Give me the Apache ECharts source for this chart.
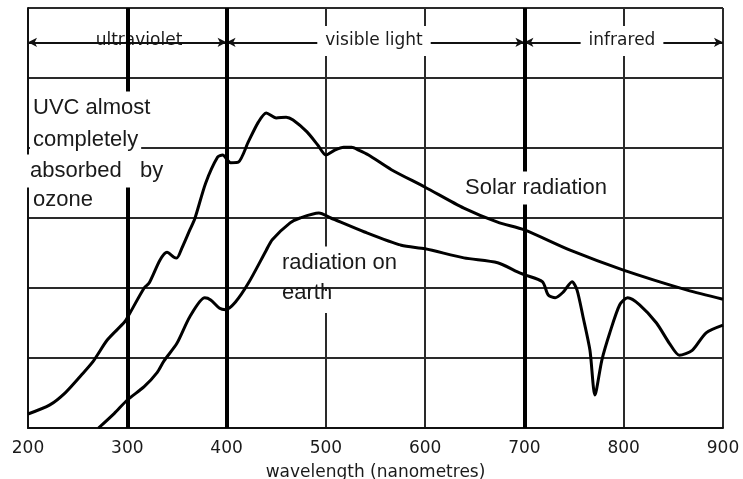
<!DOCTYPE html>
<html>
<head>
<meta charset="utf-8">
<style>
  html, body { margin: 0; padding: 0; background: #fff; }
  #chart { width: 743px; height: 479px; }
</style>
<script src="https://cdn.jsdelivr.net/npm/echarts@6/dist/echarts.min.js"></script>
</head>
<body>
<div id="chart"></div>
<script>
// Wavelength range and tick spacing (nm)
const wlMin = 200;
const wlMax = 900;
const wlStep = 100;

// Spectral bands shown along the top
const bandNames = ['ultraviolet', 'visible light', 'infrared'];
const bandStart = [200, 400, 700];
const bandEnd = [400, 700, 900];

// Heavy vertical rules between regions
const boundaries = [300, 400, 700];

// Solar radiation (top of atmosphere), relative units
const solarWl = [200, 222, 238, 254, 266, 280, 297, 301, 317, 322,
  333, 340, 347, 350, 355, 363, 368, 379, 391, 396,
  404, 412, 422, 432, 440, 450, 460, 467, 481, 492,
  500, 509, 518, 526, 533, 543, 566, 600, 639, 673,
  700, 746, 799, 864, 900];
const solarVal = [0.20, 0.33, 0.51, 0.76, 0.96, 1.26, 1.51, 1.60, 2.00, 2.07,
  2.40, 2.51, 2.44, 2.43, 2.57, 2.83, 2.99, 3.50, 3.87, 3.90,
  3.79, 3.80, 4.09, 4.37, 4.50, 4.43, 4.44, 4.40, 4.23, 4.04,
  3.90, 3.97, 4.01, 4.01, 3.97, 3.90, 3.69, 3.44, 3.14, 2.94,
  2.83, 2.54, 2.26, 1.97, 1.84];

// Radiation reaching the ground, relative units
const earthWl = [271, 287, 300, 317, 330, 337, 350, 363, 378, 384,
  393, 399, 409, 422, 440, 446, 464, 474, 493, 505,
  539, 576, 600, 639, 673, 693, 700, 718, 724, 731,
  739, 748, 753, 759, 766, 771, 778, 786, 796, 804,
  816, 833, 846, 856, 869, 883, 900];
const earthVal = [0.00, 0.21, 0.40, 0.59, 0.79, 0.96, 1.21, 1.59, 1.86, 1.83,
  1.71, 1.69, 1.80, 2.07, 2.54, 2.69, 2.93, 3.00, 3.07, 3.00,
  2.80, 2.61, 2.56, 2.43, 2.36, 2.23, 2.19, 2.09, 1.90, 1.86,
  1.94, 2.09, 1.97, 1.59, 1.11, 0.47, 0.97, 1.36, 1.76, 1.86,
  1.76, 1.50, 1.21, 1.04, 1.11, 1.36, 1.47];

const yMax = 6;
const arrowLevel = 5.51;

const pairs = (xs, ys) => xs.map((x, i) => [x, ys[i]]);

const smallFont = '17px "DejaVu Sans", Verdana, sans-serif';
const bigFont = '22px "Liberation Sans", Arial, sans-serif';
const ink = '#1a1a1a';

function note(text, x, y, z, extra) {
  return {
    type: 'text', z: z, silent: true,
    style: Object.assign({
      text: text, x: x, y: y, font: bigFont, fill: ink,
      align: 'left', verticalAlign: 'middle',
      backgroundColor: '#fff', lineHeight: 33, padding: [0, 3]
    }, extra || {})
  };
}

function bandLabel(text, x, z) {
  return {
    type: 'text', z: z, silent: true,
    style: {
      text: text, x: x, y: 41, font: smallFont, fill: ink,
      align: 'center', verticalAlign: 'middle',
      backgroundColor: '#fff', lineHeight: 30, padding: [0, 8]
    }
  };
}

// White patch behind a piece of text, leaving nearby grid lines visible
function patch(x, y, w, h) {
  return { type: 'rect', z: 10, silent: true,
    shape: { x: x, y: y, width: w, height: h }, style: { fill: '#fff' } };
}

const chart = echarts.init(document.getElementById('chart'));
chart.setOption({
  animation: false,
  backgroundColor: '#fff',
  grid: { left: 28, right: 20, top: 8, bottom: 51, containLabel: false, outerBoundsMode: 'none' },
  xAxis: {
    type: 'value', min: wlMin, max: wlMax, interval: wlStep,
    name: 'wavelength (nanometres)', nameLocation: 'middle', nameGap: 36,
    nameTextStyle: { fontFamily: 'DejaVu Sans', fontSize: 17, color: ink },
    axisLine: { show: true, lineStyle: { color: '#111', width: 2 } },
    axisTick: { show: false },
    axisLabel: { margin: 12, fontFamily: 'DejaVu Sans', fontSize: 17, color: ink },
    splitLine: { show: true, lineStyle: { color: '#2a2a2a', width: 2 } }
  },
  yAxis: {
    type: 'value', min: 0, max: yMax, interval: 1,
    axisLine: { show: true, lineStyle: { color: '#111', width: 2 } },
    axisTick: { show: false },
    axisLabel: { show: false },
    splitLine: { show: true, lineStyle: { color: '#2a2a2a', width: 2 } }
  },
  series: [
    {
      name: 'bands', type: 'line', data: [], z: 4, silent: true,
      markLine: {
        silent: true, symbol: ['arrow', 'arrow'], symbolSize: [7, 9],
        lineStyle: { color: '#111', width: 2, type: 'solid' },
        label: { show: false },
        data: bandStart.map((s, i) => [
          { coord: [s, arrowLevel] },
          { coord: [bandEnd[i], arrowLevel] }
        ])
      }
    },
    {
      name: 'solar radiation', type: 'line', z: 6,
      data: pairs(solarWl, solarVal),
      smooth: 0.25, showSymbol: false,
      lineStyle: { color: '#000', width: 3 }
    },
    {
      name: 'radiation on earth', type: 'line', z: 6,
      data: pairs(earthWl, earthVal),
      smooth: 0.25, showSymbol: false,
      lineStyle: { color: '#000', width: 3 }
    },
    {
      name: 'boundaries', type: 'line', data: [], z: 8, silent: true,
      markLine: {
        silent: true, symbol: ['none', 'none'],
        lineStyle: { color: '#000', width: 4, type: 'solid' },
        label: { show: false },
        data: boundaries.map(v => ({ xAxis: v }))
      }
    }
  ],
  graphic: [
    bandLabel(bandNames[0], 139, 5),
    bandLabel(bandNames[1], 374, 10),
    bandLabel(bandNames[2], 622, 10),
    note('UVC almost', 30, 108, 10),
    note('completely', 30, 140, 10),
    note('absorbed   by', 27, 171, 10),
    note('ozone', 30, 200, 10),
    note('Solar radiation', 462, 188, 10),
    note('radiation on', 279, 263, 10),
    patch(320, 276, 12, 11),
    patch(280, 291, 58, 22),
    note('earth', 279, 293, 11, { backgroundColor: null })
  ]
});
</script>
</body>
</html>
